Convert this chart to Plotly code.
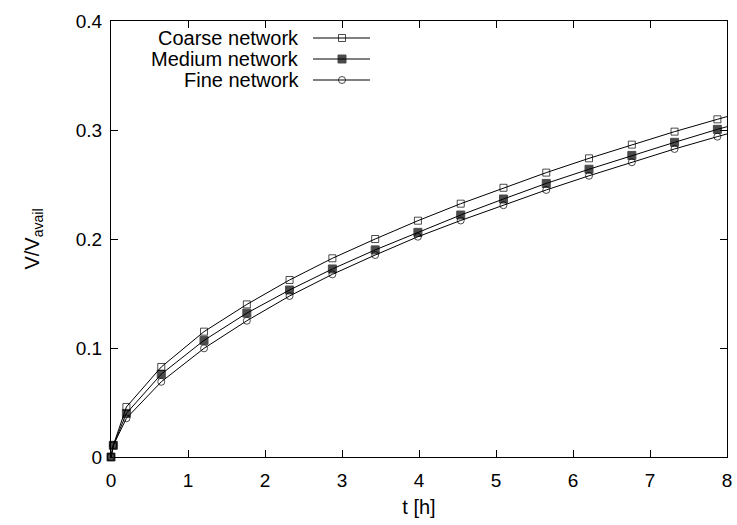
import plotly.graph_objects as go

t_h = [0, 0.03, 0.20, 0.653, 1.208, 1.764, 2.319, 2.875, 3.431, 3.986, 4.542, 5.097, 5.653, 6.208, 6.764, 7.319, 7.875, 8.431]
coarse = [0, 0.0107, 0.0459, 0.0826, 0.115, 0.140, 0.1624, 0.1823, 0.200, 0.2168, 0.2324, 0.247, 0.2609, 0.274, 0.2866, 0.2985, 0.3098, 0.321]
medium = [0, 0.0107, 0.040, 0.076, 0.107, 0.132, 0.1532, 0.1725, 0.190, 0.2061, 0.222, 0.2367, 0.251, 0.264, 0.2767, 0.2887, 0.3006, 0.3115]
fine = [0, 0.0107, 0.0355, 0.069, 0.0997, 0.125, 0.1477, 0.1676, 0.1853, 0.2021, 0.2170, 0.231, 0.245, 0.258, 0.2704, 0.2826, 0.2939, 0.305]

series_names = ["Coarse network", "Medium network", "Fine network"]
series_values = [coarse, medium, fine]
series_symbols = ["square-open", "square", "circle-open"]
series_sizes = [7, 8, 7]

x_ticks = [0, 1, 2, 3, 4, 5, 6, 7, 8]
y_ticks = [0, 0.1, 0.2, 0.3, 0.4]
y_tick_text = ["0", "0.1", "0.2", "0.3", "0.4"]

FONT = "Liberation Sans, Arial, Helvetica, sans-serif"
FS_TICK = 19
FS_TEXT = 20

W, H = 737, 525
ml, mr, mt, mb = 111, 10, 21, 68
pw, ph = W - ml - mr, H - mt - mb

fig = go.Figure()
for name, vals, sym, sz in zip(series_names, series_values, series_symbols, series_sizes):
    # the last sample lies beyond the axis end: only its line segment shows (clipped)
    sizes = [sz] * (len(t_h) - 1) + [0]
    fig.add_trace(go.Scatter(
        x=t_h, y=vals, mode="lines+markers", name=name, cliponaxis=False,
        line=dict(color="black", width=1),
        marker=dict(symbol=sym, size=sizes, color="black", line=dict(color="black", width=1)),
        showlegend=False,
    ))

def px2paper(x, y):
    return (x - ml) / pw, 1 - (y - mt) / ph

# gnuplot-style key: text on the left, sample on the right
key_rows_y = [38, 59, 80]
key_text_right = 301
key_line = (313, 370)
key_marker_x = 342
for name, ky in zip(series_names, key_rows_y):
    tx, ty = px2paper(key_text_right, ky)
    fig.add_annotation(x=tx, y=ty, xref="paper", yref="paper", text=name, showarrow=False,
                       xanchor="right", yanchor="middle", font=dict(family=FONT, size=FS_TEXT, color="black"))
    x0, y0 = px2paper(key_line[0], ky)
    x1, _ = px2paper(key_line[1], ky)
    fig.add_shape(type="line", xref="paper", yref="paper", x0=x0, x1=x1, y0=y0, y1=y0,
                  line=dict(color="black", width=1))

fig.add_trace(go.Scatter(
    x=[px2paper(key_marker_x, 0)[0]] * 3, y=[px2paper(0, k)[1] for k in key_rows_y],
    xaxis="x2", yaxis="y2", mode="markers", showlegend=False, hoverinfo="skip",
    marker=dict(symbol=series_symbols, size=series_sizes, color="black", line=dict(color="black", width=1)),
))

fig.update_layout(
    width=W, height=H,
    margin=dict(l=ml, r=mr, t=mt, b=mb),
    plot_bgcolor="white", paper_bgcolor="white",
    font=dict(family=FONT, size=FS_TEXT, color="black"),
    xaxis=dict(range=[0, 8], tickvals=x_ticks, ticks="inside", ticklen=7, tickcolor="black",
               tickfont=dict(family=FONT, size=FS_TICK), ticklabelstandoff=6, ticklabeloverflow="allow",
               showline=True, linecolor="black", linewidth=1, mirror="ticks", showgrid=False, zeroline=False,
               automargin=False, title=dict(text="t [h]", standoff=10, font=dict(size=FS_TEXT))),
    yaxis=dict(range=[0, 0.4], tickvals=y_ticks, ticktext=y_tick_text, ticks="inside", ticklen=7,
               tickfont=dict(family=FONT, size=FS_TICK), ticklabelstandoff=4, ticklabeloverflow="allow",
               tickcolor="black", showline=True, linecolor="black", linewidth=1, mirror="ticks",
               showgrid=False, zeroline=False, automargin=False,
               title=dict(text="V/V<sub>avail</sub>", standoff=30, font=dict(size=FS_TEXT))),
    xaxis2=dict(overlaying="x", range=[0, 1], visible=False, anchor="y2"),
    yaxis2=dict(overlaying="y", range=[0, 1], visible=False, anchor="x2"),
)

fig.write_html(
    "out.html",
    config={"displayModeBar": False},
    post_script="document.documentElement.style.margin='0';document.body.style.margin='0';"
                "document.body.style.padding='0';document.body.style.overflow='hidden';",
)
